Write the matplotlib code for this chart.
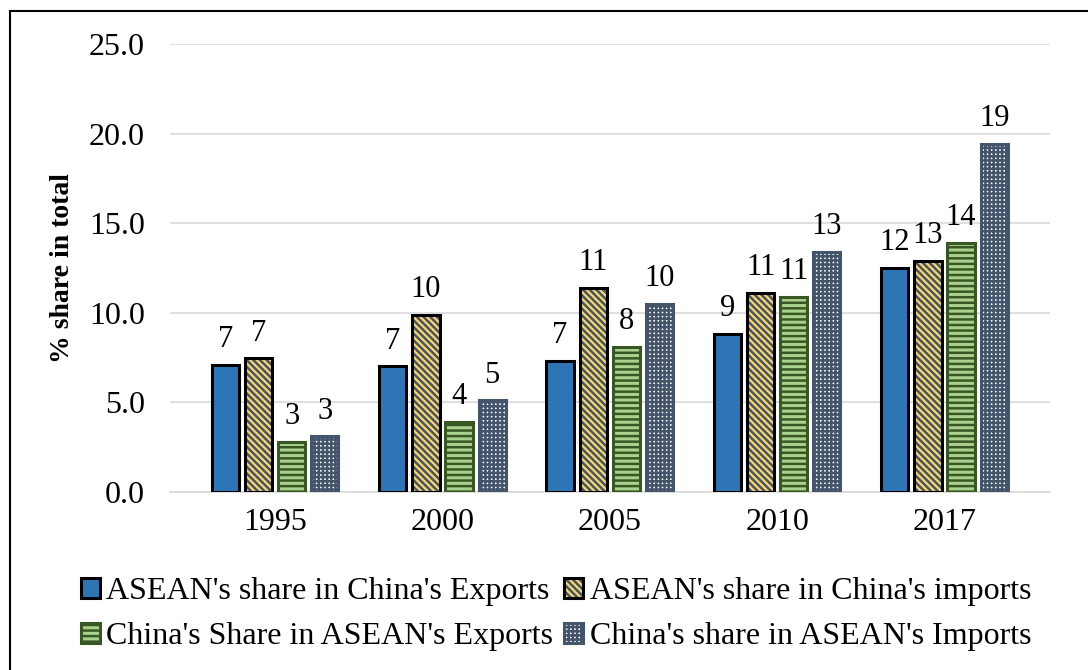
import numpy as np
import matplotlib.pyplot as plt
from matplotlib.patches import Rectangle
from matplotlib.lines import Line2D

years = ['1995', '2000', '2005', '2010', '2017']
asean_in_china_exp = [7.1, 7.0, 7.3, 8.8, 12.5]
asean_in_china_imp = [7.45, 9.9, 11.4, 11.1, 12.9]
china_in_asean_exp = [2.8, 3.9, 8.1, 10.9, 13.9]
china_in_asean_imp = [3.1, 5.1, 10.5, 13.4, 19.45]

names = ["ASEAN's share in China's Exports", "ASEAN's share in China's imports",
         "China's Share in ASEAN's Exports", "China's share in ASEAN's Imports"]

plt.rcParams['font.family'] = ['Liberation Serif', 'DejaVu Serif']
plt.rcParams['hatch.linewidth'] = 1.8

fig = plt.figure(figsize=(10.88, 6.70), dpi=100)
ax = fig.add_axes([0.156, 0.266, 0.809, 0.668])

x = np.arange(len(years))
w = 0.163
pitch = 0.198
series = [asean_in_china_exp, asean_in_china_imp, china_in_asean_exp, china_in_asean_imp]
# (face, hatch, hatch colour, outline)
styles = [('#2E75B6', None, '#2E75B6', 'black'),
          ('#FFD966', '\\\\\\\\\\', '#44546A', 'black'),
          ('#A9D18E', '---', '#385723', '#385723'),
          ('white', '++++', '#44546A', '#44546A')]

handles = []
for i, (vals, st) in enumerate(zip(series, styles)):
    face, hatch, hcol, edge = st
    pos = x + (i - 1.5) * pitch
    ax.bar(pos, vals, w, color=face, hatch=hatch, edgecolor=hcol, linewidth=0, zorder=2)
    ax.bar(pos, vals, w, fill=False, edgecolor=edge, linewidth=2.2, zorder=3)
    for p, v in zip(pos, vals):
        ax.text(p, v + 0.6, f'{v:.0f}', ha='center', va='bottom', fontsize=22)
    h_fill = Rectangle((0, 0), 1, 1, facecolor=face, hatch=hatch, edgecolor=hcol, linewidth=0)
    h_edge = Rectangle((0, 0), 1, 1, fill=False, edgecolor=edge, linewidth=2.2)
    handles.append((h_fill, h_edge))

ax.set_ylim(0, 25)
ax.set_yticks(np.arange(0, 26, 5))
ax.set_yticklabels([f'{t:.1f}' for t in np.arange(0, 26, 5)], fontsize=23)
ax.set_xlim(-0.63, 4.63)
ax.set_xticks(x)
ax.set_xticklabels(years, fontsize=23)
ax.tick_params(length=0)
ax.tick_params(axis='x', pad=12)
ax.tick_params(axis='y', pad=18)
ax.grid(axis='y', color='#D9D9D9', linewidth=1.2, zorder=0)
ax.set_axisbelow(True)
for s in ['top', 'right', 'left']:
    ax.spines[s].set_visible(False)
ax.spines['bottom'].set_color('#D9D9D9')
ax.spines['bottom'].set_linewidth(1.2)
ax.set_ylabel('% share in total', fontsize=20, fontweight='bold', labelpad=10)

order = [0, 2, 1, 3]
fig.legend([handles[k] for k in order], [names[k] for k in order], loc='center',
           bbox_to_anchor=(0.511, 0.083), ncol=2, frameon=False, fontsize=23,
           handlelength=0.6, handleheight=0.6, handletextpad=0.2,
           columnspacing=0.35, labelspacing=0.5, borderpad=0)

# frame lines (left and top only visible in the source)
fig.add_artist(Line2D([10 / 1088, 10 / 1088], [0, 1 - 11 / 670], color='black', linewidth=1.5))
fig.add_artist(Line2D([10 / 1088, 1], [1 - 11 / 670, 1 - 11 / 670], color='black', linewidth=1.5))

fig.savefig('out.png', dpi=100)
